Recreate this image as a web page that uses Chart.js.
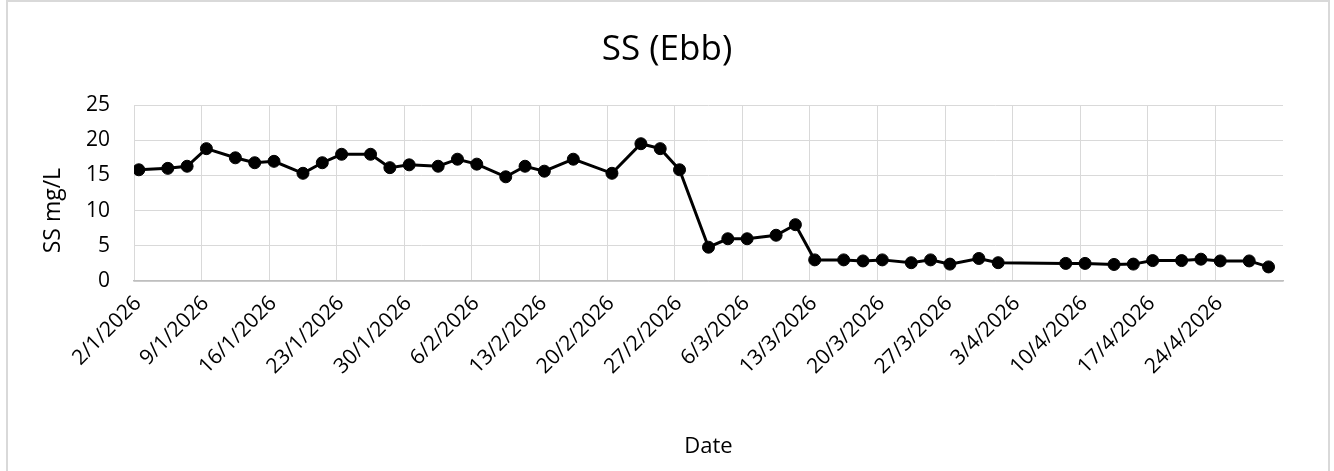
<!DOCTYPE html>
<html>
<head>
<meta charset="utf-8">
<title>SS (Ebb)</title>
<script src="https://cdn.jsdelivr.net/npm/chart.js@4.4.1/dist/chart.umd.min.js"></script>
<style>
  html, body { margin: 0; padding: 0; background: #fff; overflow: hidden; }
  #wrap { position: relative; width: 1334px; height: 471px; }
  #frame {
    position: absolute; left: 6px; top: 0; width: 1324px; height: 520px;
    border: 2px solid #d9d9d9; box-sizing: border-box; pointer-events: none;
  }
</style>
</head>
<body>
<div id="wrap">
  <canvas id="chart" width="1334" height="471"></canvas>
  <div id="frame"></div>
</div>
<script>
// ---------- DATA ----------
const chartTitle = "SS (Ebb)";
const xTitle = "Date";
const yTitle = "SS mg/L";
const startDate = "2/1/2026";
const endDate = "30/4/2026";

const sampleDates = [
    "2/1/2026", "5/1/2026", "7/1/2026", "9/1/2026", "12/1/2026", "14/1/2026",
    "16/1/2026", "19/1/2026", "21/1/2026", "23/1/2026", "26/1/2026", "28/1/2026",
    "30/1/2026", "2/2/2026", "4/2/2026", "6/2/2026", "9/2/2026", "11/2/2026",
    "13/2/2026", "16/2/2026", "20/2/2026", "23/2/2026", "25/2/2026", "27/2/2026",
    "2/3/2026", "4/3/2026", "6/3/2026", "9/3/2026", "11/3/2026", "13/3/2026",
    "16/3/2026", "18/3/2026", "20/3/2026", "23/3/2026", "25/3/2026", "27/3/2026",
    "30/3/2026", "1/4/2026", "8/4/2026", "10/4/2026", "13/4/2026", "15/4/2026",
    "17/4/2026", "20/4/2026", "22/4/2026", "24/4/2026", "27/4/2026", "29/4/2026"
];

const ssValues = [
    15.8, 16.0, 16.3, 18.8, 17.5, 16.8,
    17.0, 15.3, 16.8, 18.0, 18.0, 16.1,
    16.5, 16.3, 17.3, 16.6, 14.8, 16.3,
    15.6, 17.3, 15.3, 19.5, 18.8, 15.8,
    4.8, 6.0, 6.0, 6.5, 8.0, 3.0,
    3.0, 2.85, 3.0, 2.6, 3.0, 2.4,
    3.2, 2.6, 2.5, 2.5, 2.35, 2.4,
    2.9, 2.9, 3.1, 2.85, 2.85, 2.0
];

const yMin = 0;
const yMax = 25;
const yStep = 5;
const xStepDays = 7;

// ---------- HELPERS ----------
const FONT = "'Open Sans', 'Noto Sans', sans-serif";
const DAY_MS = 86400000;

function parseDay(s) {
    const [d, m, y] = s.split("/").map(Number);
    return Date.UTC(y, m - 1, d) / DAY_MS;
}
const day0 = parseDay(startDate);
const dayCount = parseDay(endDate) - day0 + 1;

function dayLabel(n) {
    const dt = new Date((day0 + n) * DAY_MS);
    return `${dt.getUTCDate()}/${dt.getUTCMonth() + 1}/${dt.getUTCFullYear()}`;
}

// each date owns a one-day slot, marker sits in the middle of it (Excel date axis)
const points = sampleDates.map((d, i) => ({ x: parseDay(d) - day0 + 0.5, y: ssValues[i] }));

// y title is drawn by hand: Excel puts it a bit below the plot centre
const yTitlePlugin = {
    id: "yTitle",
    afterDraw(chart) {
        const c = chart.ctx;
        const area = chart.chartArea;
        c.save();
        c.translate(53, area.top + (area.bottom - area.top) * 0.6);
        c.rotate(-Math.PI / 2);
        c.font = `23px ${FONT}`;
        c.fillStyle = "#000";
        c.textAlign = "center";
        c.textBaseline = "middle";
        c.fillText(yTitle, 0, 0);
        c.restore();
    }
};

// ---------- CHART ----------
const ctx = document.getElementById("chart").getContext("2d");
new Chart(ctx, {
    type: "line",
    data: {
        datasets: [{
            data: points,
            borderColor: "#000",
            backgroundColor: "#000",
            borderWidth: 3,
            pointRadius: 6,
            pointHoverRadius: 6,
            pointBorderWidth: 1,
            tension: 0,
            fill: false
        }]
    },
    plugins: [yTitlePlugin],
    options: {
        responsive: false,
        animation: false,
        devicePixelRatio: 1,
        layout: { padding: 0 },
        plugins: {
            legend: { display: false },
            tooltip: { enabled: false },
            title: {
                display: true,
                text: chartTitle,
                color: "#000",
                font: { family: FONT, size: 35, weight: "normal" },
                padding: { top: 29, bottom: 34 }
            }
        },
        scales: {
            x: {
                type: "linear",
                min: 0,
                max: dayCount,
                bounds: "data",
                ticks: {
                    stepSize: xStepDays,
                    includeBounds: false,
                    autoSkip: false,
                    minRotation: 45,
                    maxRotation: 45,
                    padding: 10,
                    labelOffset: 4,
                    color: "#000",
                    font: { family: FONT, size: 21 },
                    callback: v => dayLabel(v)
                },
                afterBuildTicks: s => {
                    s.ticks = s.ticks.filter(t => t.value < dayCount);
                },
                grid: { color: "#d9d9d9", lineWidth: 1, drawTicks: false },
                border: { color: "#bfbfbf", width: 1.5 },
                title: {
                    display: true,
                    text: xTitle,
                    color: "#000",
                    font: { family: FONT, size: 22 },
                    padding: { top: 0, bottom: 11 }
                },
                afterFit: s => {
                    s.height = 190;
                    s.paddingRight = 51;
                }
            },
            y: {
                min: yMin,
                max: yMax,
                ticks: {
                    stepSize: yStep,
                    padding: 24,
                    color: "#000",
                    font: { family: FONT, size: 21 }
                },
                grid: { color: "#d9d9d9", lineWidth: 1, drawTicks: false },
                border: { display: false },
                afterFit: s => { s.width = 134; }
            }
        }
    }
});
</script>
</body>
</html>
